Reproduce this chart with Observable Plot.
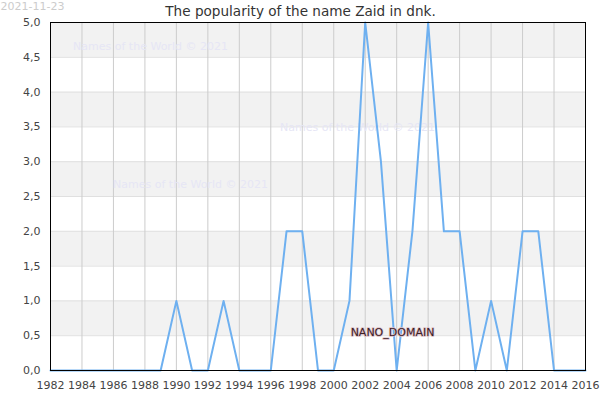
<!DOCTYPE html>
<html>
<head>
<meta charset="utf-8">
<script src="https://cdn.jsdelivr.net/npm/d3@7"></script>
<script src="https://cdn.jsdelivr.net/npm/@observablehq/plot@0.6"></script>
<style>
  html, body { margin: 0; padding: 0; background: #fff; }
  svg { display: block; }
</style>
</head>
<body>
<div id="chart"></div>
<script>
const years = [1982,1983,1984,1985,1986,1987,1988,1989,1990,1991,1992,1993,1994,1995,1996,1997,1998,1999,2000,2001,2002,2003,2004,2005,2006,2007,2008,2009,2010,2011,2012,2013,2014,2015,2016];
const counts = [0,0,0,0,0,0,0,0,1,0,0,1,0,0,0,2,2,0,0,1,5,3,0,2,5,2,2,0,1,0,2,2,0,0,0];
const xTicks = [1982,1984,1986,1988,1990,1992,1994,1996,1998,2000,2002,2004,2006,2008,2010,2012,2014,2016];
const yTicks = [0,0.5,1,1.5,2,2.5,3,3.5,4,4.5,5];
const bandStarts = [0.5,1.5,2.5,3.5,4.5];
const title = "The popularity of the name Zaid in dnk.";
const dateLabel = "2021-11-23";
const watermark = "Names of the World © 2021";
const stamp = "NANO_DOMAIN";

const data = years.map((y, i) => ({year: y, count: counts[i]}));
const fmtY = d => d3.format(".1f")(d).replace(".", ",");
const font = "DejaVu Sans, sans-serif";

const chart = Plot.plot({
  width: 600,
  height: 400,
  marginTop: 22,
  marginLeft: 50,
  marginRight: 15,
  marginBottom: 30,
  style: {fontFamily: font, fontSize: "11px", color: "#444", background: "#fff"},
  x: {domain: [1982, 2016], ticks: xTicks, tickFormat: d3.format("d"), tickSize: 0, tickPadding: 11, label: null},
  y: {domain: [0, 5], ticks: yTicks, tickFormat: fmtY, tickSize: 0, tickPadding: 10, label: null},
  marks: [
    Plot.rect(bandStarts, {y1: d => d, y2: d => d + 0.5, fill: "#f2f2f2"}),
    Plot.ruleY(yTicks, {stroke: "#e0e0e0", strokeWidth: 1}),
    Plot.ruleX(xTicks, {stroke: "#cccccc", strokeWidth: 1}),
    Plot.text([watermark], {frameAnchor: "top-left", dx: 100, dy: 24, lineAnchor: "middle", fill: "#e6e6f5", fontSize: 11, textAnchor: "middle"}),
    Plot.text([watermark], {frameAnchor: "top-left", dx: 307, dy: 105, lineAnchor: "middle", fill: "#e6e6f5", fontSize: 11, textAnchor: "middle"}),
    Plot.text([watermark], {frameAnchor: "top-left", dx: 140, dy: 162, lineAnchor: "middle", fill: "#e6e6f5", fontSize: 11, textAnchor: "middle"}),
    Plot.line(data, {x: "year", y: "count", stroke: "#6eb0f0", strokeWidth: 2}),
    Plot.frame({stroke: "#000", strokeWidth: 1}),
    Plot.text([stamp], {frameAnchor: "top-left", dx: 342, dy: 310, lineAnchor: "middle", fill: "#3b2127", stroke: "#dcbcc4", strokeWidth: 1.5, paintOrder: "stroke", fontSize: 11, textAnchor: "middle"}),
    Plot.text([title], {frameAnchor: "top", dx: -17.5, dy: -11, lineAnchor: "middle", fill: "#333", fontSize: 13.6, textAnchor: "middle"}),
    Plot.text([dateLabel], {frameAnchor: "top-left", dx: -50, dy: -16, lineAnchor: "middle", fill: "#cccccc", fontSize: 11, textAnchor: "start"})
  ]
});
document.getElementById("chart").appendChild(chart);
</script>
</body>
</html>
